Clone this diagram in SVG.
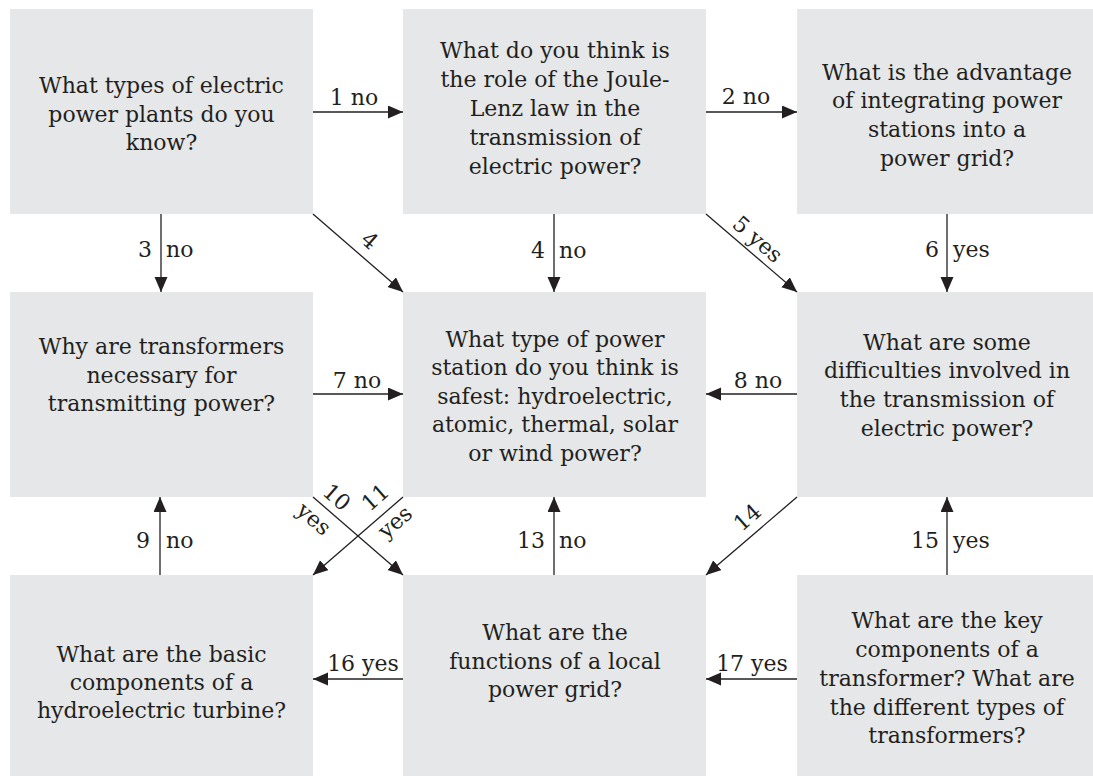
<svg xmlns="http://www.w3.org/2000/svg" width="1093" height="776" viewBox="0 0 1093 776">
<style>
.box{fill:#e6e7e8}
.t{font-family:"DejaVu Serif","Liberation Serif",serif;font-size:22px;fill:#231f20;text-anchor:middle}
.l{font-family:"DejaVu Serif","Liberation Serif",serif;font-size:22px;fill:#231f20}
.c{stroke:#231f20;stroke-width:1.3;fill:none;marker-end:url(#ah)}
</style>
<defs>
<marker id="ah" markerUnits="userSpaceOnUse" markerWidth="16" markerHeight="14" refX="15" refY="6.5" orient="auto">
<path d="M0,0 L15,6.5 L0,13 z" fill="#231f20"/>
</marker>
</defs>
<rect width="1093" height="776" fill="#fff"/>
<g id="n1"><rect class="box" x="10" y="9" width="303" height="205"/>
<text class="t"><tspan x="161.5" y="93">What types of electric</tspan><tspan x="161.5" y="122">power plants do you</tspan><tspan x="161.5" y="150">know?</tspan></text></g>
<g id="n2"><rect class="box" x="403" y="9" width="303" height="205"/>
<text class="t"><tspan x="555" y="58">What do you think is</tspan><tspan x="555" y="87">the role of the Joule-</tspan><tspan x="555" y="116">Lenz law in the</tspan><tspan x="555" y="145">transmission of</tspan><tspan x="555" y="174">electric power?</tspan></text></g>
<g id="n3"><rect class="box" x="797" y="9" width="296" height="205"/>
<text class="t"><tspan x="947" y="80">What is the advantage</tspan><tspan x="947" y="108">of integrating power</tspan><tspan x="947" y="137">stations into a</tspan><tspan x="947" y="166">power grid?</tspan></text></g>
<g id="n4"><rect class="box" x="10" y="292" width="303" height="205"/>
<text class="t"><tspan x="161.5" y="354">Why are transformers</tspan><tspan x="161.5" y="383">necessary for</tspan><tspan x="161.5" y="411">transmitting power?</tspan></text></g>
<g id="n5"><rect class="box" x="403" y="292" width="303" height="205"/>
<text class="t"><tspan x="555" y="347">What type of power</tspan><tspan x="555" y="375">station do you think is</tspan><tspan x="555" y="404">safest: hydroelectric,</tspan><tspan x="555" y="432">atomic, thermal, solar</tspan><tspan x="555" y="461">or wind power?</tspan></text></g>
<g id="n6"><rect class="box" x="797" y="292" width="296" height="205"/>
<text class="t"><tspan x="947" y="350">What are some</tspan><tspan x="947" y="378">difficulties involved in</tspan><tspan x="947" y="407">the transmission of</tspan><tspan x="947" y="436">electric power?</tspan></text></g>
<g id="n7"><rect class="box" x="10" y="575" width="303" height="201"/>
<text class="t"><tspan x="161.5" y="662">What are the basic</tspan><tspan x="161.5" y="690">components of a</tspan><tspan x="161.5" y="718">hydroelectric turbine?</tspan></text></g>
<g id="n8"><rect class="box" x="403" y="575" width="303" height="201"/>
<text class="t"><tspan x="555" y="640">What are the</tspan><tspan x="555" y="669">functions of a local</tspan><tspan x="555" y="697">power grid?</tspan></text></g>
<g id="n9"><rect class="box" x="797" y="575" width="296" height="201"/>
<text class="t"><tspan x="947" y="628">What are the key</tspan><tspan x="947" y="657">components of a</tspan><tspan x="947" y="686">transformer? What are</tspan><tspan x="947" y="715">the different types of</tspan><tspan x="947" y="743">transformers?</tspan></text></g>
<g id="connectors">
<line class="c" x1="313" y1="112" x2="403" y2="112"/>
<line class="c" x1="706" y1="112" x2="797" y2="112"/>
<line class="c" x1="161" y1="214" x2="161" y2="292"/>
<line class="c" x1="313" y1="214" x2="403" y2="292"/>
<line class="c" x1="554" y1="214" x2="554" y2="292"/>
<line class="c" x1="706" y1="214" x2="797" y2="292"/>
<line class="c" x1="947" y1="214" x2="947" y2="292"/>
<line class="c" x1="313" y1="394" x2="403" y2="394"/>
<line class="c" x1="797" y1="394" x2="706" y2="394"/>
<line class="c" x1="160" y1="575" x2="160" y2="497"/>
<line class="c" x1="313" y1="497" x2="403" y2="575"/>
<line class="c" x1="403" y1="497" x2="313" y2="575"/>
<line class="c" x1="554" y1="575" x2="554" y2="497"/>
<line class="c" x1="797" y1="497" x2="706" y2="575"/>
<line class="c" x1="947" y1="575" x2="947" y2="497"/>
<line class="c" x1="403" y1="679" x2="313" y2="679"/>
<line class="c" x1="797" y1="679" x2="706" y2="679"/>
<g class="labels">
<text class="t" x="354" y="105">1 no</text>
<text class="t" x="746" y="104">2 no</text>
<text class="l" x="152" y="257" text-anchor="end">3</text><text class="l" x="166" y="257">no</text>
<text class="t" transform="translate(370,240) rotate(41)" y="8">4</text>
<text class="l" x="545" y="258" text-anchor="end">4</text><text class="l" x="559" y="258">no</text>
<text class="t" transform="translate(758,239) rotate(41)" y="8">5 yes</text>
<text class="l" x="939" y="257" text-anchor="end">6</text><text class="l" x="953" y="257">yes</text>
<text class="t" x="357" y="388">7 no</text>
<text class="t" x="758" y="388">8 no</text>
<text class="l" x="150" y="548" text-anchor="end">9</text><text class="l" x="166" y="548">no</text>
<text class="t" transform="translate(337,497) rotate(41)" y="8">10</text>
<text class="t" transform="translate(313,520) rotate(41)" y="6">yes</text>
<text class="t" transform="translate(375,497) rotate(-41)" y="8">11</text>
<text class="t" transform="translate(396,523) rotate(-41)" y="6">yes</text>
<text class="l" x="545" y="548" text-anchor="end">13</text><text class="l" x="559" y="548">no</text>
<text class="t" transform="translate(747,517) rotate(-41)" y="8">14</text>
<text class="l" x="939" y="548" text-anchor="end">15</text><text class="l" x="953" y="548">yes</text>
<text class="t" x="363" y="671">16 yes</text>
<text class="t" x="752" y="671">17 yes</text>
</g>
</g>
</svg>
